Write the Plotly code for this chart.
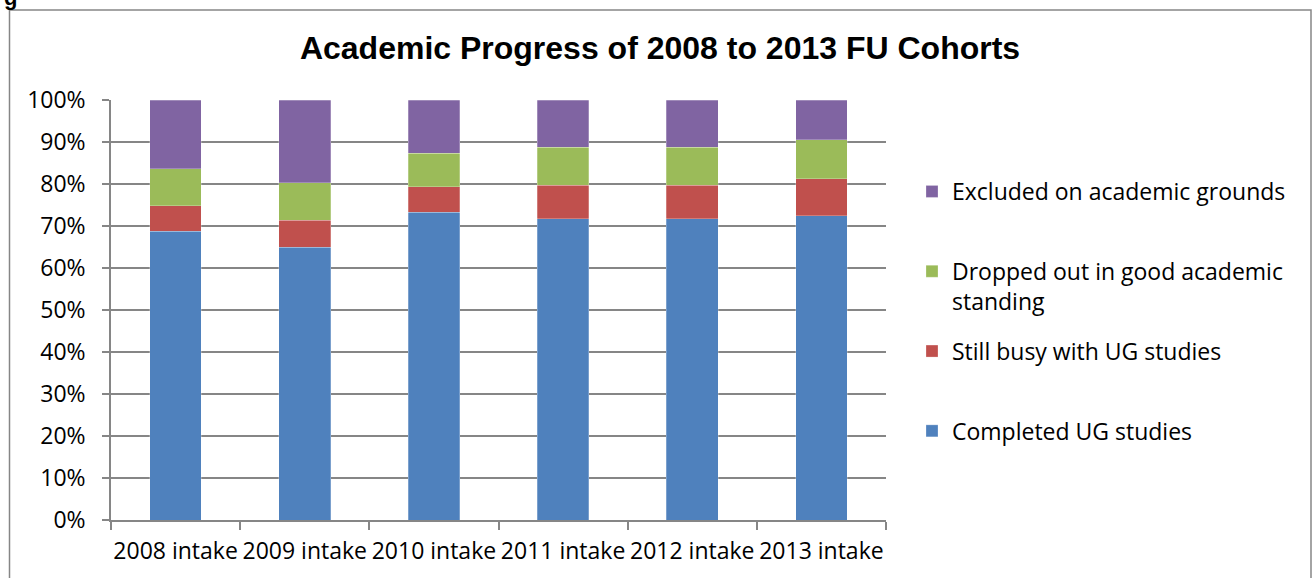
import plotly.graph_objects as go

categories = ["2008 intake", "2009 intake", "2010 intake", "2011 intake", "2012 intake", "2013 intake"]
completed = [68.8, 64.9, 73.3, 71.7, 71.7, 72.5]
still_busy = [6.0, 6.5, 6.1, 8.0, 8.0, 8.8]
dropped = [8.8, 8.9, 7.9, 9.1, 9.1, 9.2]
excluded = [16.4, 19.7, 12.7, 11.2, 11.2, 9.5]

series = [
    ("Completed UG studies<br> ", completed, "#4F81BD", 4),
    ("Still busy with UG studies<br> ", still_busy, "#C0504D", 3),
    ("Dropped out in good academic<br>standing", dropped, "#9BBB59", 2),
    ("Excluded on academic grounds<br> ", excluded, "#8064A2", 1),
]

W, H = 1312, 578
L, R, T, B = 111, 426, 100, 58
pw, ph = W - L - R, H - T - B

def px(x):
    return (x - L) / pw

def py(y):
    return (H - B - y) / ph

TXT = "Open Sans"
FS = 23

fig = go.Figure()
for i, (name, vals, col, rank) in enumerate(series):
    fig.add_trace(go.Bar(
        x=categories, y=vals, name=name,
        marker=dict(color=col, line=dict(color="rgba(255,255,255,0.5)", width=0.5)),
        legendgroup="g%d" % rank, legendrank=rank,
    ))

fig.update_layout(
    width=W, height=H,
    margin=dict(l=L, r=R, t=T, b=B, autoexpand=False),
    barmode="stack", bargap=0.6,
    plot_bgcolor="white", paper_bgcolor="white",
    title=dict(text="<b>Academic Progress of 2008 to 2013 FU Cohorts</b>",
               font=dict(family="Liberation Sans, Arial", size=32, color="black"),
               x=px(660), xref="paper", xanchor="center",
               y=1 - 48 / H, yanchor="middle"),
    xaxis=dict(
        showline=True, linecolor="#868686", linewidth=1.5,
        ticks="outside", ticklen=8, tickcolor="#868686", tickwidth=1.5,
        tickson="boundaries", showgrid=False, tickangle=0, automargin=False,
        tickfont=dict(family=TXT, size=FS, color="black"),
        ticklabelstandoff=10,
    ),
    yaxis=dict(
        range=[0, 100], dtick=10, ticksuffix="%",
        showline=True, linecolor="#868686", linewidth=1.5,
        ticks="outside", ticklen=7, tickcolor="#868686", tickwidth=1.5,
        showgrid=True, gridcolor="#868686", gridwidth=1.5, automargin=False,
        tickfont=dict(family=TXT, size=FS, color="black"),
        ticklabelstandoff=12,
    ),
    legend=dict(
        traceorder="grouped", tracegroupgap=17,
        font=dict(family=TXT, size=FS, color="black"),
        x=px(912), xanchor="left", y=py(170), yanchor="top",
        valign="top", itemwidth=30,
    ),
    showlegend=True,
    shapes=[dict(type="rect", xref="paper", yref="paper",
                 x0=px(9.5), x1=px(1311), y0=py(600), y1=py(10),
                 line=dict(color="#868686", width=1.5), fillcolor="rgba(0,0,0,0)",
                 layer="below")],
    annotations=[dict(text="<b>g</b>", xref="paper", yref="paper",
                      x=px(2), xanchor="left", y=py(-17), yanchor="top",
                      showarrow=False,
                      font=dict(family="Liberation Sans, Arial", size=22, color="black"))],
)

fig.write_html("out.html")
